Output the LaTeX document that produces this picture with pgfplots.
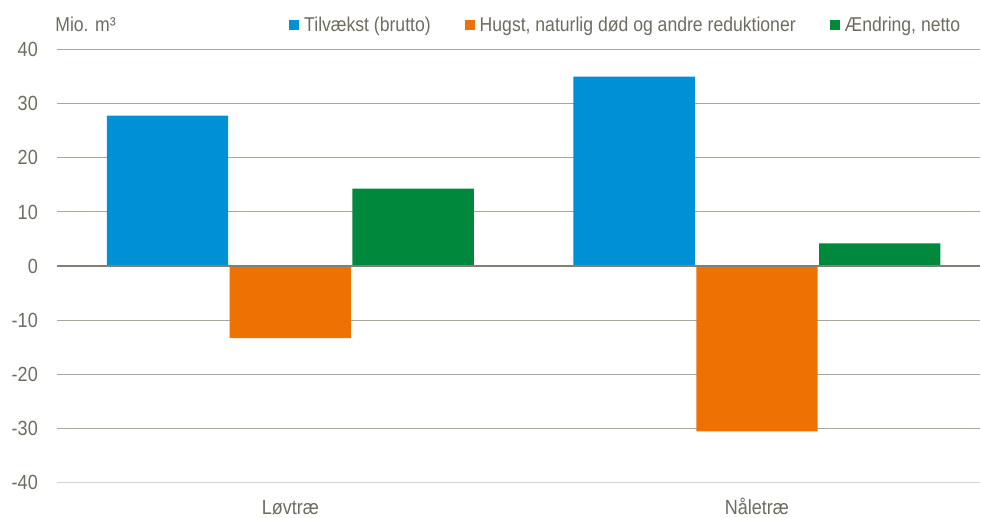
\documentclass[border=0pt]{standalone}
\usepackage{pgfplots}
\pgfplotsset{compat=1.18}
\usepackage{fontspec}
\setmainfont{Liberation Sans}[FakeStretch=0.88]
\definecolor{cblue}{RGB}{0,144,214}
\definecolor{corange}{RGB}{238,114,3}
\definecolor{cgreen}{RGB}{0,136,60}
\definecolor{ctext}{RGB}{108,108,96}
\definecolor{cgrid}{RGB}{168,168,154}
\definecolor{czero}{RGB}{128,128,118}
\definecolor{cbottom}{RGB}{212,212,206}
\begin{document}
\begin{tikzpicture}
\begin{axis}[
  at={(57pt,35.3pt)}, anchor=south west,
  scale only axis, width=923pt, height=433.2pt,
  clip=false,
  ybar=1.5pt, bar width=0.26,
  xmin=-0.5, xmax=1.478, ymin=-40, ymax=40,
  xtick={0,1}, xticklabels={Løvtræ, Nåletræ},
  ytick={-30,-20,...,40},
  extra y ticks={-40},
  extra y tick style={grid style={color=cbottom, line width=1.2pt}},
  ymajorgrids, grid style={color=cgrid, line width=1pt},
  major tick length=0pt,
  axis line style={draw=none},
  tick label style={font=\fontsize{20.5}{24}\selectfont, text=ctext},
  /pgf/number format/assume math mode=true,
  yticklabel style={anchor=east, inner sep=0pt, xshift=-19pt},
  xticklabel style={anchor=base, inner sep=0pt, yshift=-32pt},
  legend columns=3,
  legend style={at={(rel axis cs:0.2514,1.0560)}, anchor=west, draw=none, fill=none, inner sep=0pt,
    font=\fontsize{20}{24}\selectfont, text=ctext,
    /tikz/every odd column/.append style={column sep=3pt},
    /tikz/every even column/.append style={column sep=32pt}},
  legend image code/.code={\fill[#1] (0pt,-5pt) rectangle (10pt,5pt);},
]
\addplot[fill=cblue, draw=none] coordinates {(0,27.8) (1,35.0)};
\addlegendentry{Tilvækst (brutto)}
\addplot[fill=corange, draw=none] coordinates {(0,-13.3) (1,-30.5)};
\addlegendentry{Hugst, naturlig død og andre reduktioner}
\addplot[fill=cgreen, draw=none] coordinates {(0,14.3) (1,4.2)};
\addlegendentry{Ændring, netto}
\draw[czero, line width=1.5pt] (axis cs:-0.5,0) -- (axis cs:1.478,0);
\node[anchor=base west, inner sep=0pt, font=\fontsize{20}{24}\selectfont, text=ctext] at (rel axis cs:-0.002,1.0404) {Mio. m³};
\end{axis}
\pgfresetboundingbox
\path[use as bounding box] (0,0) rectangle (981pt,518pt);
\end{tikzpicture}
\end{document}
